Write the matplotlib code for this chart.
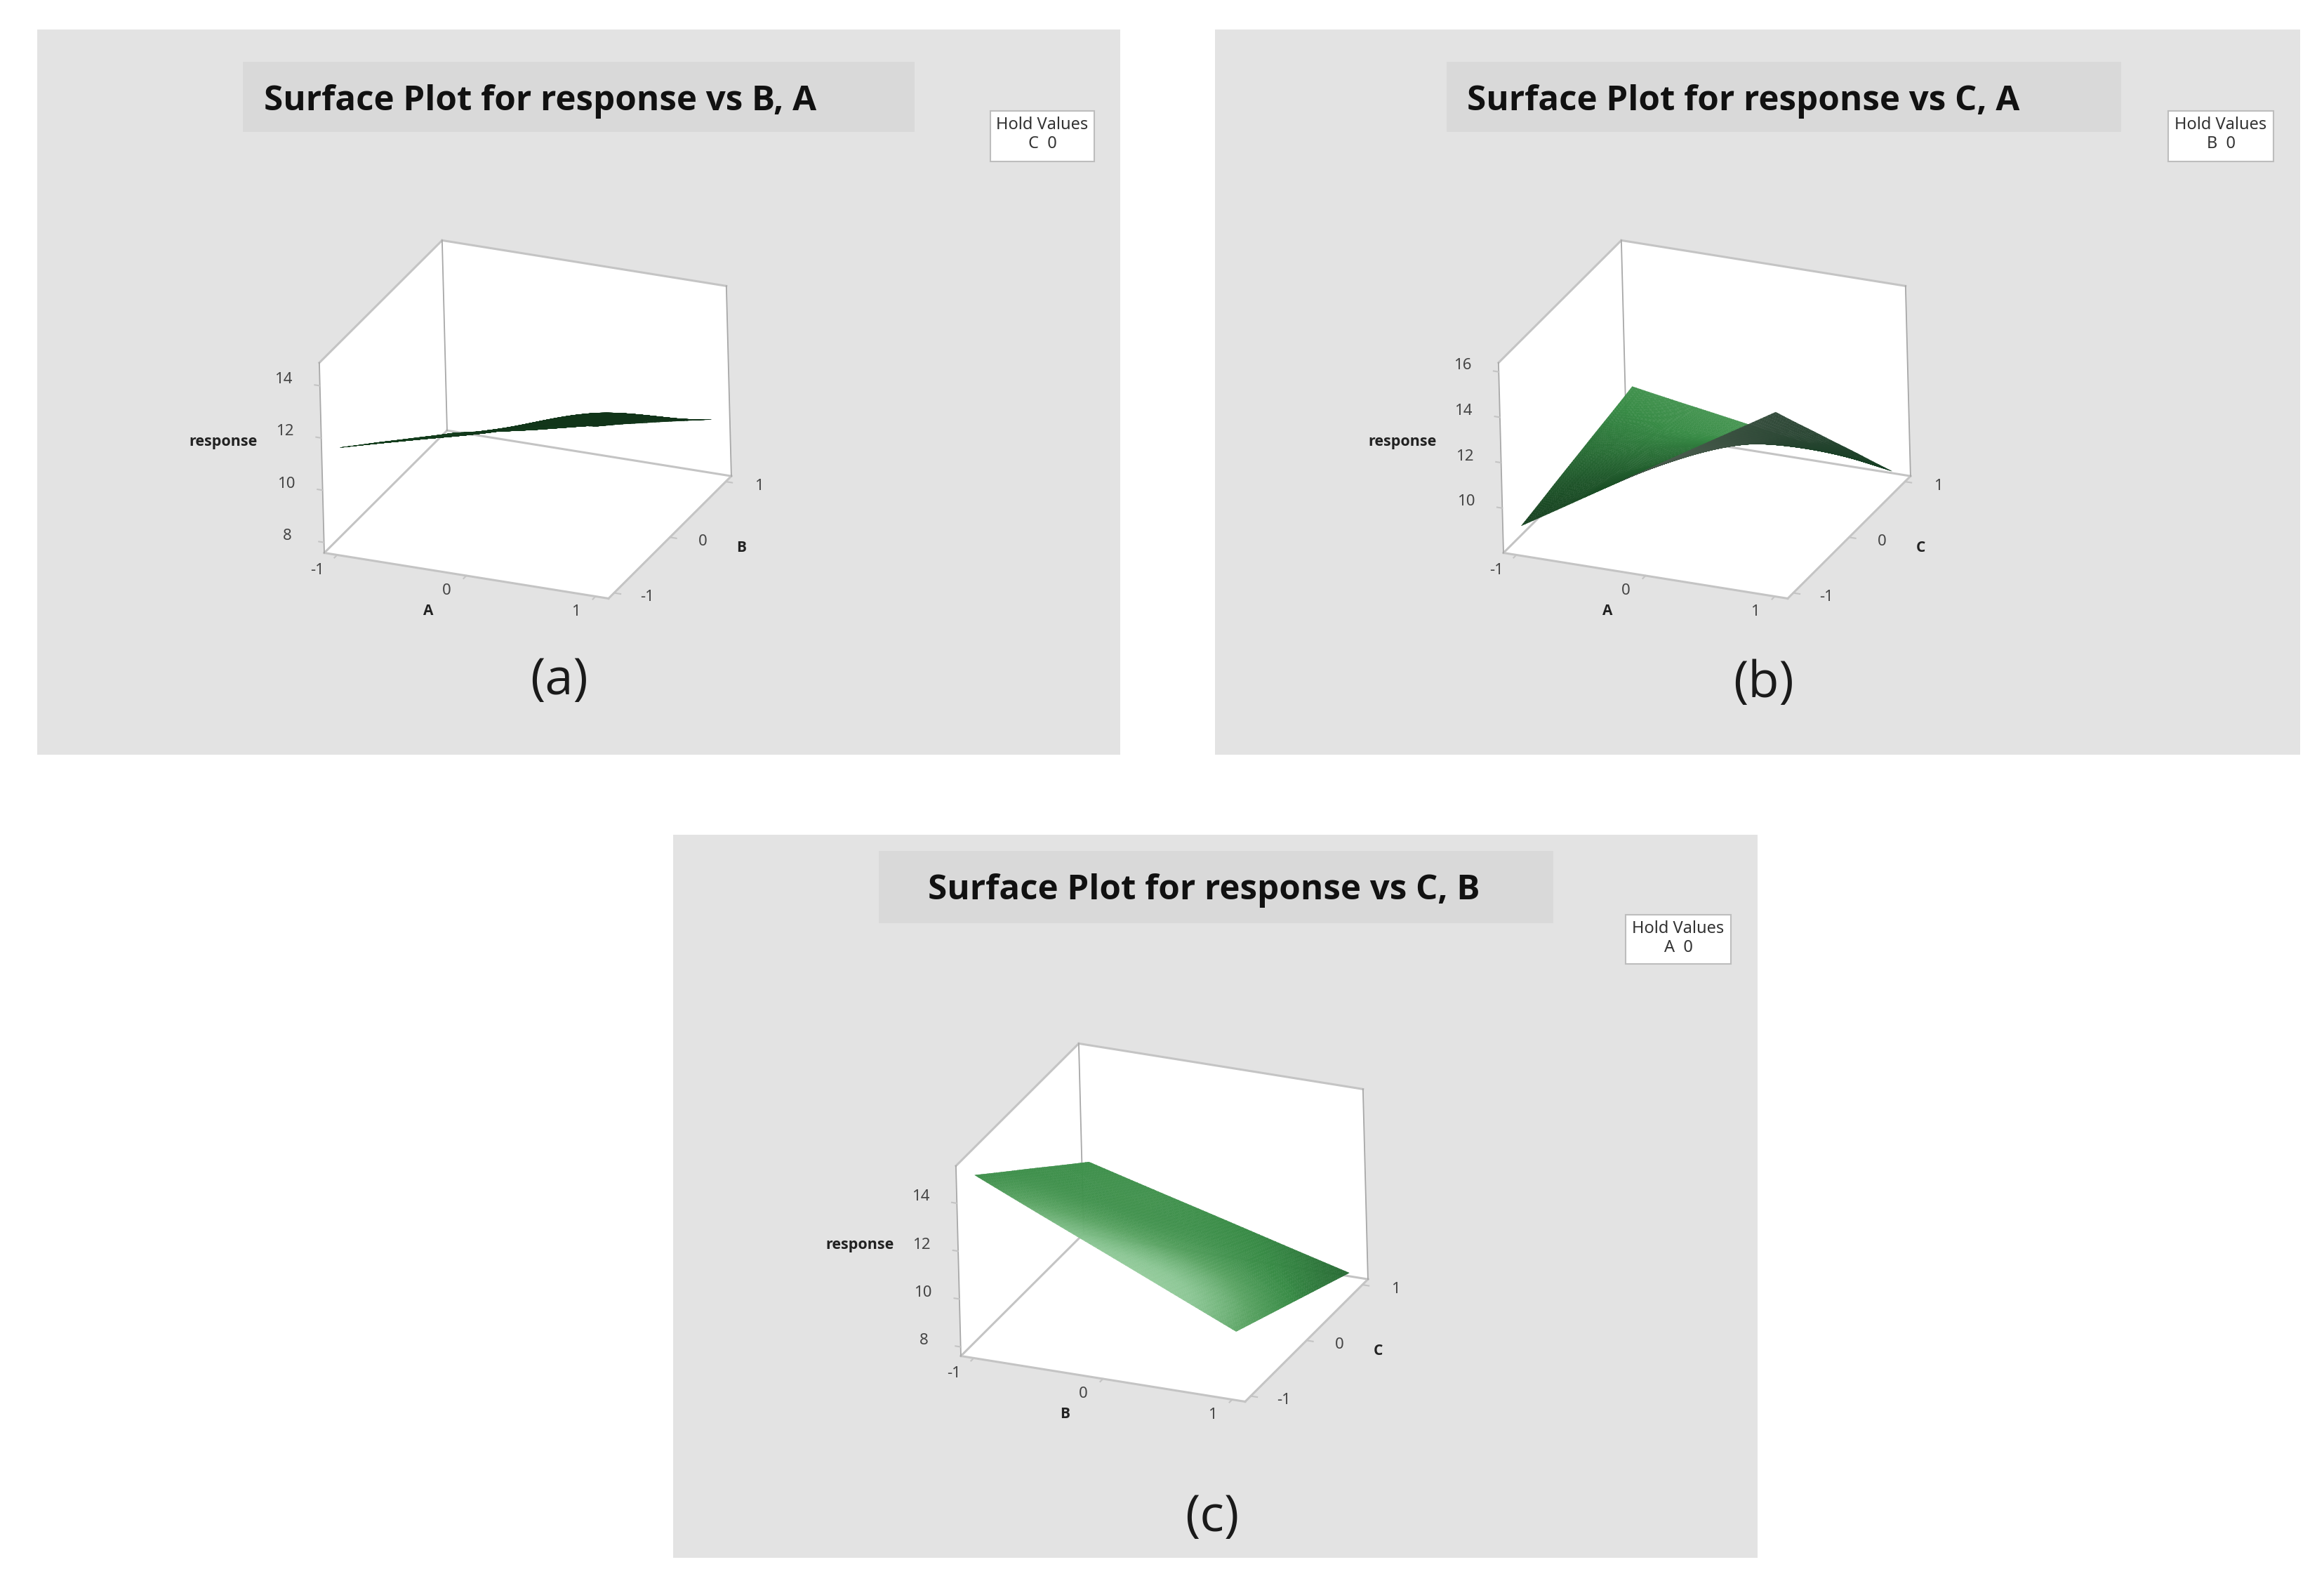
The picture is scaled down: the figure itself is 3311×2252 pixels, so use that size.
# Three surface plots (response vs pairs of A, B, C) drawn on 3D axes with grey panels.

import matplotlib
matplotlib.use("Agg")
import matplotlib.pyplot as plt
import matplotlib.tri as mtri
import numpy as np
from matplotlib.colors import LinearSegmentedColormap
from matplotlib.patches import Rectangle
from mpl_toolkits.mplot3d import art3d, proj3d

W, H = 3311, 2252

levels = [-1.0, -0.5, 0.0, 0.5, 1.0]
tick_vals = [-1, 0, 1]

# response, rows = first axis, columns = second axis
z_a = [[11.50, 10.58, 9.65, 8.72, 7.80],
       [12.17, 11.20, 10.30, 9.30, 8.32],
       [12.84, 11.85, 11.05, 9.90, 8.85],
       [13.51, 12.55, 11.85, 10.70, 9.38],
       [13.90, 12.95, 12.04, 10.97, 9.90]]
z_b = [[9.07, 9.38, 9.69, 9.99, 10.30],
       [10.78, 10.54, 10.37, 10.06, 9.82],
       [12.49, 11.70, 11.05, 10.14, 9.35],
       [14.20, 12.87, 11.60, 10.21, 8.88],
       [15.90, 14.02, 12.15, 10.28, 8.40]]
z_c = [[15.03, 14.00, 12.98, 11.95, 10.93],
       [13.82, 12.92, 12.01, 11.11, 10.20],
       [12.63, 11.84, 11.05, 10.26, 9.48],
       [11.43, 10.76, 10.09, 9.42, 8.75],
       [10.23, 9.68, 9.13, 8.58, 8.03]]

z_ticks_a = [8, 10, 12, 14]
z_ticks_b = [10, 12, 14, 16]
z_ticks_c = [8, 10, 12, 14]
z_lims_a = (7.6, 14.88)
z_lims_b = (8.03, 16.4)
z_lims_c = (7.62, 15.56)

# surface brightness at the grid nodes, 0 dark to 1 light
shade_a = [[0.08] * 5, [0.08] * 5, [0.06] * 5, [0.05] * 5, [0.04] * 5]
shade_b = [[0.10, 0.16, 0.26, 0.36, 0.46],
           [0.14, 0.20, 0.30, 0.40, 0.48],
           [0.20, 0.26, 0.34, 0.44, 0.50],
           [0.24, 0.30, 0.38, 0.46, 0.50],
           [0.26, 0.32, 0.40, 0.46, 0.50]]
shade_c = [[0.42, 0.44, 0.44, 0.44, 0.44],
           [0.68, 0.56, 0.47, 0.46, 0.46],
           [0.82, 0.68, 0.52, 0.45, 0.42],
           [0.84, 0.72, 0.54, 0.42, 0.36],
           [0.62, 0.52, 0.40, 0.32, 0.26]]
under_b = [[0.2] * 5, [0.2] * 5,
           [0.9, 0.8, 0.6, 0.4, 0.3],
           [0.8, 0.7, 0.5, 0.3, 0.2],
           [0.6, 0.5, 0.35, 0.2, 0.05]]

titles = ["Surface Plot for response vs B, A",
          "Surface Plot for response vs C, A",
          "Surface Plot for response vs C, B"]
axis_names = [("A", "B"), ("A", "C"), ("B", "C")]
hold_vals = ["C  0", "B  0", "A  0"]
letters = ["(a)", "(b)", "(c)"]

top_cmap = LinearSegmentedColormap.from_list(
    "top", ["#0d2a14", "#1f5a2b", "#368a44", "#5aa463", "#8cc795", "#a8d8ab"])
under_cmap = LinearSegmentedColormap.from_list(
    "under", ["#123d20", "#2b4634", "#4d5d50"])

GREY = "#c4c4c4"
XL = (-1.1, 1.1)


def to_px(ax, x, y, z):
    xs, ys, _ = proj3d.proj_transform(np.atleast_1d(x), np.atleast_1d(y),
                                      np.atleast_1d(z), ax.get_proj())
    d = ax.transData.transform(np.column_stack([xs, ys]))
    return d[:, 0], H - d[:, 1]


def fit_box(ax, zl, p0, p1):
    # scale and shift the axes so two floor corners land on the wanted pixels
    t0, t1 = np.array(p0, float), np.array(p1, float)
    size, cx, cy = 900.0, p0[0] + 250.0, p0[1] - 200.0
    for _ in range(3):
        ax.set_position([(cx - size / 2) / W, 1 - (cy + size / 2) / H, size / W, size / H])
        ax.apply_aspect()
        px, py = to_px(ax, [XL[0], XL[1]], [XL[0], XL[1]], [zl[0], zl[0]])
        m0, m1 = np.array([px[0], py[0]]), np.array([px[1], py[1]])
        s = np.linalg.norm(t1 - t0) / np.linalg.norm(m1 - m0)
        c = np.array([cx, cy])
        cx, cy = t0 - (m0 - c) * s
        size *= s


def draw_surface(ax, z, shade, under=None):
    gx, gy = np.meshgrid(levels, levels, indexing="ij")
    tri = mtri.Triangulation(gx.ravel(), gy.ravel())
    refiner = mtri.UniformTriRefiner(tri)
    fine, zf = refiner.refine_field(np.ravel(z), subdiv=4)
    _, sf = refiner.refine_field(np.ravel(shade), subdiv=4)
    if under is not None:
        _, uf = refiner.refine_field(np.ravel(under), subdiv=4)

    t = fine.triangles
    verts = np.stack([fine.x[t], fine.y[t], zf[t]], axis=-1)
    cols = top_cmap(np.clip(sf[t].mean(axis=1), 0, 1))
    if under is not None:
        px, py = to_px(ax, fine.x, fine.y, zf)
        area = ((px[t[:, 1]] - px[t[:, 0]]) * (py[t[:, 2]] - py[t[:, 0]])
                - (px[t[:, 2]] - px[t[:, 0]]) * (py[t[:, 1]] - py[t[:, 0]]))
        # sign tells which side of the sheet faces the viewer
        flip = area > 0
        cols[flip] = under_cmap(np.clip(uf[t].mean(axis=1), 0, 1))[flip]
    poly = art3d.Poly3DCollection(verts, facecolors=cols, edgecolors=cols,
                                  linewidths=0.3, zorder=5)
    ax.add_collection3d(poly)


def draw_panel(fig, bg, i, z, shade, under, zl, zticks, box0, box1,
               panel, band, title_xy, hold, letter_xy):
    # panel background, title band, hold box
    bg.add_patch(Rectangle((panel[0], panel[1]), panel[2], panel[3], fc="#e3e3e3", ec="none"))
    bg.add_patch(Rectangle((band[0], band[1]), band[2], band[3], fc="#d9d9d9", ec="none"))
    bg.add_patch(Rectangle((hold[0], hold[1]), hold[2], hold[3], fc="white", ec="#bdbdbd", lw=1.5))
    bg.text(title_xy[0], title_xy[1], titles[i], fontsize=35.5, fontweight="bold",
            family="Open Sans", va="baseline", ha="left", color="#111111")
    bg.text(hold[0] + hold[2] / 2, hold[1] + 20, "Hold Values", fontsize=17,
            family="Noto Sans", ha="center", va="center", color="#333333")
    bg.text(hold[0] + hold[2] / 2, hold[1] + 47, hold_vals[i], fontsize=17,
            family="Noto Sans", ha="center", va="center", color="#333333")
    bg.text(letter_xy[0], letter_xy[1], letters[i], fontsize=52, family="Open Sans",
            ha="center", va="center", color="#1a1a1a")

    ax = fig.add_axes([0.1, 0.1, 0.3, 0.3], projection="3d", computed_zorder=False)
    ax.set_proj_type("ortho")
    ax.view_init(elev=24.9, azim=-66, roll=1.5)
    ax.set_box_aspect((441.4, 441.4, 298.7))
    ax.set_xlim(*XL)
    ax.set_ylim(*XL)
    ax.set_zlim(*zl)
    ax.set_axis_off()
    ax.patch.set_visible(False)
    fit_box(ax, zl, box0, box1)

    x0, x1 = XL
    z0, z1 = zl
    walls = [[(x0, x0, z0), (x1, x0, z0), (x1, x1, z0), (x0, x1, z0)],
             [(x0, x1, z0), (x1, x1, z0), (x1, x1, z1), (x0, x1, z1)],
             [(x0, x0, z0), (x0, x1, z0), (x0, x1, z1), (x0, x0, z1)]]
    ax.add_collection3d(art3d.Poly3DCollection(walls, facecolors="white",
                                               edgecolors="none", zorder=1))
    heavy = [((x0, x1), (x1, x1), (z1, z1)), ((x0, x0), (x0, x1), (z1, z1)),
             ((x0, x1), (x0, x0), (z0, z0)), ((x1, x1), (x0, x1), (z0, z0)),
             ((x0, x0), (x0, x1), (z0, z0)), ((x0, x1), (x1, x1), (z0, z0))]
    for xs, ys, zs in heavy:
        ax.plot(xs, ys, zs, color=GREY, lw=2.2, zorder=2)
    for xs, ys in [((x0, x0), (x0, x0)), ((x0, x0), (x1, x1)), ((x1, x1), (x1, x1))]:
        ax.plot(xs, ys, (z0, z1), color="#a8a8a8", lw=1.3, zorder=2)

    # ticks and their labels, placed from the projected tick positions
    name_x, name_y = axis_names[i]
    for v in tick_vals:
        ax.plot((v, v), (x0, x0 - 0.05), (z0, z0), color=GREY, lw=1.5, zorder=2)
        ax.plot((x1, x1 + 0.05), (v, v), (z0, z0), color=GREY, lw=1.5, zorder=2)
        px, py = to_px(ax, v, x0, z0)
        bg.text(px[0] - 28, py[0] + 22, str(v), fontsize=16, family="Noto Sans",
                ha="center", va="center", color="#444444")
        px, py = to_px(ax, x1, v, z0)
        bg.text(px[0] + 47, py[0] + 6, str(v), fontsize=16, family="Noto Sans",
                ha="center", va="center", color="#444444")
    for v in zticks:
        ax.plot((x0, x0 - 0.04), (x0, x0), (v, v), color=GREY, lw=1.5, zorder=2)
        px, py = to_px(ax, x0, x0, v)
        bg.text(px[0] - 52, py[0] - 9, str(v), fontsize=16, family="Noto Sans",
                ha="center", va="center", color="#444444")

    dx, dy = box0[0] - 462, box0[1] - 787.5
    bg.text(610 + dx, 871 + dy, name_x, fontsize=15, fontweight="bold", family="Open Sans",
            ha="center", va="center", color="#222222")
    bg.text(1056 + dx, 780 + dy, name_y, fontsize=15, fontweight="bold", family="Open Sans",
            ha="center", va="center", color="#222222")
    bg.text(318 + dx, 629 + dy, "response", fontsize=15.5, fontweight="bold", family="Open Sans",
            ha="center", va="center", color="#222222")

    draw_surface(ax, z, shade, under)
    ax.set_xlim(*XL)
    ax.set_ylim(*XL)
    ax.set_zlim(*zl)
    return ax


def main():
    fig = plt.figure(figsize=(W / 100, H / 100), dpi=100, facecolor="white")
    bg = fig.add_axes([0, 0, 1, 1], zorder=-1)
    bg.set_xlim(0, W)
    bg.set_ylim(H, 0)
    bg.axis("off")

    draw_panel(fig, bg, 0, z_a, shade_a, None, z_lims_a, z_ticks_a,
               (462, 787.5), (1042, 678.6),
               (53, 42, 1543, 1033), (346, 88, 957, 100), (376, 157),
               (1411, 158, 148, 72), (796, 970))
    draw_panel(fig, bg, 1, z_b, shade_b, under_b, z_lims_b, z_ticks_b,
               (2142, 787.5), (2722, 678.6),
               (1731, 42, 1546, 1033), (2061, 88, 961, 100), (2090, 157),
               (3089, 158, 150, 72), (2513, 974))
    draw_panel(fig, bg, 2, z_c, shade_c, None, z_lims_c, z_ticks_c,
               (1369, 1931.5), (1949, 1822.6),
               (959, 1189, 1545, 1030), (1252, 1212, 961, 103), (1322, 1281),
               (2316, 1303, 150, 70), (1727, 2162))

    fig.savefig("out.png", dpi=100)


if __name__ == "__main__":
    main()
